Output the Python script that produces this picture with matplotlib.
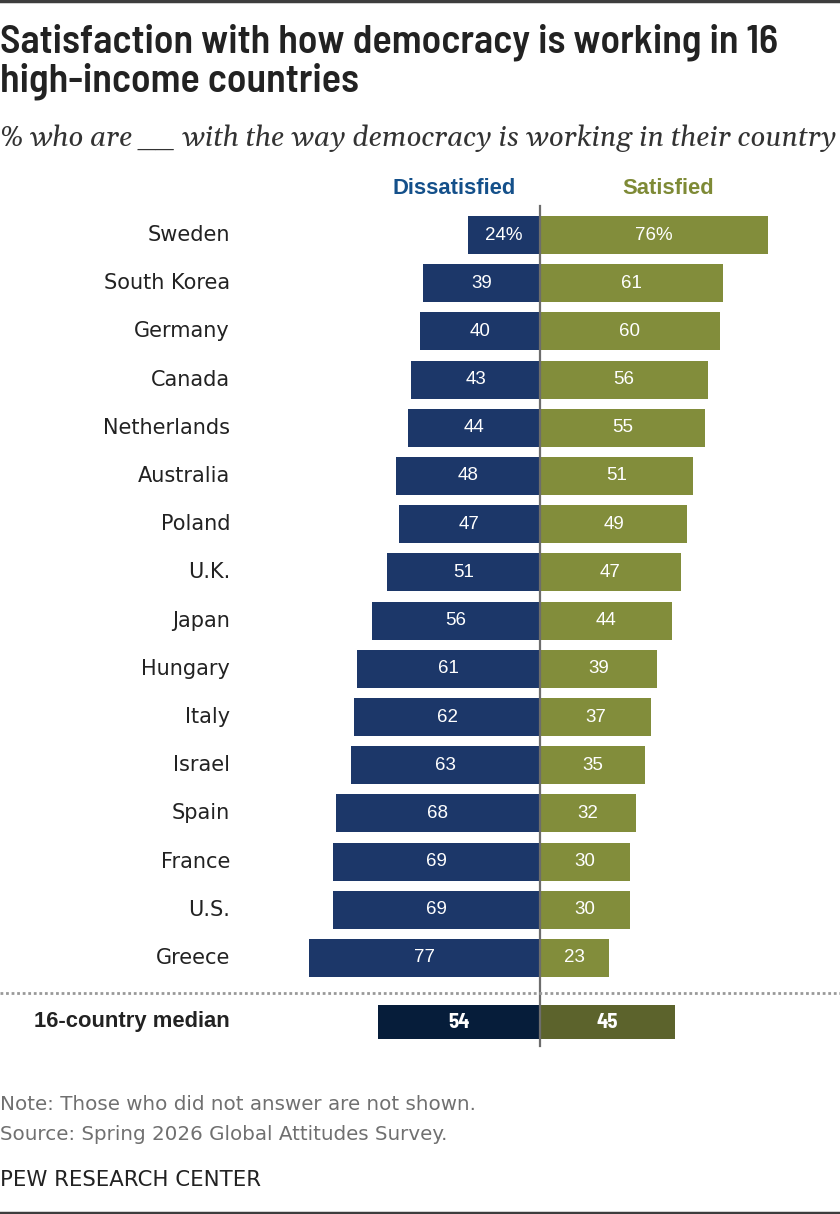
import matplotlib
matplotlib.use("Agg")
import matplotlib.pyplot as plt

# --- Data ---
countries = ["Sweden", "South Korea", "Germany", "Canada", "Netherlands", "Australia",
             "Poland", "U.K.", "Japan", "Hungary", "Italy", "Israel", "Spain",
             "France", "U.S.", "Greece"]
dissatisfied = [24, 39, 40, 43, 44, 48, 47, 51, 56, 61, 62, 63, 68, 69, 69, 77]
satisfied = [76, 61, 60, 56, 55, 51, 49, 47, 44, 39, 37, 35, 32, 30, 30, 23]
median_label = "16-country median"
median_dissatisfied = 54
median_satisfied = 45

# colours
BLUE = "#1c3769"
OLIVE = "#828d3b"
BLUE_DARK = "#061d3a"
OLIVE_DARK = "#5c632c"

W, H = 840, 1214
fig = plt.figure(figsize=(W / 100, H / 100), dpi=100)

def fx(px):
    return px / W

def fy(py):
    return 1 - py / H

cond = ["Barlow Semi Condensed", "PT Sans Narrow", "DejaVu Sans"]
serif_it = ["Gelasio", "Liberation Serif", "DejaVu Serif"]
plain = ["Liberation Sans", "DejaVu Sans"]
label_font = ["DejaVu Sans"]

# top / bottom rules
fig.add_artist(plt.Line2D([0, 1], [fy(1), fy(1)], color="#3d3d3d", lw=2.5))
fig.add_artist(plt.Line2D([0, 1], [fy(1213), fy(1213)], color="#3d3d3d", lw=2.5))

# title block
fig.text(0, fy(42), "Satisfaction with how democracy is working in 16",
         fontsize=28.8, fontweight=600, family=cond, color="#222222", va="center")
fig.text(0, fy(81), "high-income countries",
         fontsize=28.8, fontweight=600, family=cond, color="#222222", va="center")
fig.text(0, fy(138), "% who are __ with the way democracy is working in their country",
         fontsize=20.2, style="italic", family=serif_it, color="#333333", va="center")

# --- Chart axes: x in percent, 3 px per point, zero at x=540 ---
ax_top, ax_bot = 200, 1050
ax = fig.add_axes([fx(240), fy(ax_bot), fx(600), (ax_bot - ax_top) / H])
row_px = 48.2
row0 = 235
def ry(py):
    return (py - row0) / row_px

ax.set_xlim(-100, 100)
ax.set_ylim(ry(ax_bot), ry(ax_top))
ax.axis("off")

ys = list(range(len(countries)))
ax.barh(ys, [-d for d in dissatisfied], height=0.79, color=BLUE, edgecolor="none")
ax.barh(ys, satisfied, height=0.79, color=OLIVE, edgecolor="none")

for i, (d, s) in enumerate(zip(dissatisfied, satisfied)):
    dl = f"{d}%" if i == 0 else str(d)
    sl = f"{s}%" if i == 0 else str(s)
    ax.text(-d / 2, i, dl, ha="center", va="center", color="white", fontsize=13.5, family=plain)
    ax.text(s / 2, i, sl, ha="center", va="center", color="white", fontsize=13.5, family=plain)
    fig.text(fx(230), fy(row0 + i * row_px), countries[i], ha="right", va="center",
             fontsize=15, family=label_font, color="#222222")

# median row
my = ry(1022)
ax.barh([my], [-median_dissatisfied], height=0.69, color=BLUE_DARK, edgecolor="none")
ax.barh([my], [median_satisfied], height=0.69, color=OLIVE_DARK, edgecolor="none")
ax.text(-median_dissatisfied / 2, my, str(median_dissatisfied), ha="center", va="center",
        color="white", fontsize=15, fontweight="bold", family=cond)
ax.text(median_satisfied / 2, my, str(median_satisfied), ha="center", va="center",
        color="white", fontsize=15, fontweight="bold", family=cond)
fig.text(fx(230), fy(1022), median_label, ha="right", va="center",
         fontsize=15.8, fontweight="bold", family=plain, color="#222222")

# dotted separator and centre line
fig.add_artist(plt.Line2D([0, 1], [fy(993), fy(993)], color="#999999", lw=2,
                          linestyle=(0, (1, 1))))
ax.plot([0, 0], [ry(206), ry(1046)], color="#6d6d6d", lw=1.6, zorder=5)

# column headers
fig.text(fx(454), fy(189), "Dissatisfied", ha="center", va="center",
         fontsize=15.8, fontweight="bold", family=plain, color="#14508a")
fig.text(fx(668), fy(189), "Satisfied", ha="center", va="center",
         fontsize=15.8, fontweight="bold", family=plain, color="#7e8a36")

# footer
fig.text(0, fy(1104), "Note: Those who did not answer are not shown.",
         fontsize=14.3, family=label_font, color="#707070", va="center")
fig.text(0, fy(1134), "Source: Spring 2026 Global Attitudes Survey.",
         fontsize=14.3, family=label_font, color="#707070", va="center")
fig.text(0, fy(1180), "PEW RESEARCH CENTER",
         fontsize=15.3, family=label_font, color="#222222", va="center")

fig.savefig("out.png", dpi=100)
